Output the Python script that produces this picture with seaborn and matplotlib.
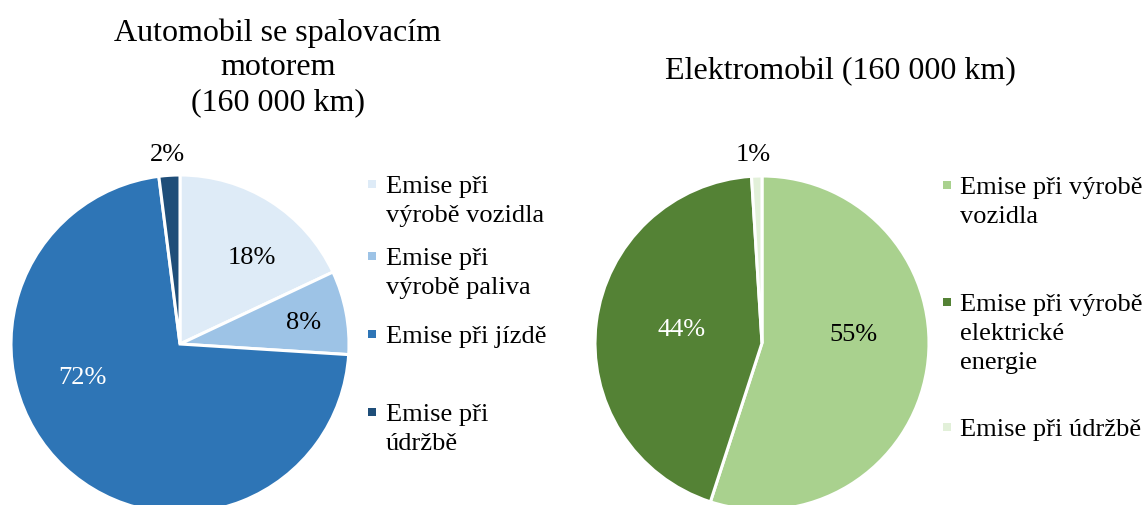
import matplotlib
matplotlib.use("Agg")
import matplotlib.pyplot as plt
from matplotlib.patches import Rectangle
import seaborn as sns

sns.set_theme(style="white")
plt.rcParams['font.family'] = ['Liberation Serif', 'DejaVu Serif']
plt.rcParams['text.color'] = 'black'

# ---- data ----
ice_title = "Automobil se spalovacím\nmotorem\n(160 000 km)"
ice_labels = ["Emise při\nvýrobě vozidla", "Emise při\nvýrobě paliva", "Emise při jízdě", "Emise při\núdržbě"]
ice_values = [18, 8, 72, 2]
ice_colors = ["#DEEBF7", "#9DC3E6", "#2E75B6", "#1F4E79"]
ice_text_colors = ["black", "black", "white", "black"]

ev_title = "Elektromobil (160 000 km)"
ev_labels = ["Emise při výrobě\nvozidla", "Emise při výrobě\nelektrické\nenergie", "Emise při údržbě"]
ev_values = [55, 44, 1]
ev_colors = ["#A9D18E", "#548235", "#E2F0D9"]
ev_text_colors = ["black", "white", "black"]

W, H = 1147, 506
fig = plt.figure(figsize=(W / 100, H / 100), dpi=100)
fig.patch.set_facecolor("white")

FS = 19
TFS = 23


def pie_axes(cx, cy, r):
    # cx, cy in pixels from top-left
    return fig.add_axes([(cx - r) / W, (H - cy - r) / H, 2 * r / W, 2 * r / H])


def draw_pie(ax, values, colors, text_colors, label_pos):
    wedges, _ = ax.pie(values, colors=colors, startangle=90, counterclock=False,
                       wedgeprops=dict(edgecolor="white", linewidth=2.2))
    ax.set_xlim(-1, 1)
    ax.set_ylim(-1, 1)
    ax.set_aspect("auto")
    ax.axis("off")
    for v, tc, (x, y) in zip(values, text_colors, label_pos):
        ax.text(x, y, f"{v}%", ha="center", va="center", fontsize=FS, color=tc,
                clip_on=False)
    return wedges


def legend(labels, colors, x_marker, x_text, ys):
    # ys: top of each entry's text in pixels from top
    for lab, col, y in zip(labels, colors, ys):
        cy = y + 9
        fig.patches.append(Rectangle((x_marker / W, (H - cy - 4) / H), 8 / W, 8 / H,
                                     transform=fig.transFigure, facecolor=col,
                                     edgecolor="none"))
        fig.text(x_text / W, (H - y) / H, lab, ha="left", va="top", fontsize=FS,
                 linespacing=1.42)


# left pie
ax1 = pie_axes(180, 345, 169)
draw_pie(ax1, ice_values, ice_colors, ice_text_colors,
         [(0.426, 0.515), (0.734, 0.13), (-0.58, -0.195), (-0.077, 1.124)])
fig.text(278 / W, 1 - 18 / H, ice_title, ha="center", va="top", fontsize=TFS,
         linespacing=1.27)

# right pie
ax2 = pie_axes(762, 344, 167)
draw_pie(ax2, ev_values, ev_colors, ev_text_colors,
         [(0.545, 0.054), (-0.48, 0.084), (-0.054, 1.13)])
fig.text(840 / W, 1 - 72 / H, ev_title, ha="center", va="center", fontsize=TFS)

legend(ice_labels, ice_colors, 368, 386, [176, 248, 326, 404])
legend(ev_labels, ev_colors, 943, 960, [177, 294, 419])

fig.savefig("out.png", dpi=100, facecolor="white")
